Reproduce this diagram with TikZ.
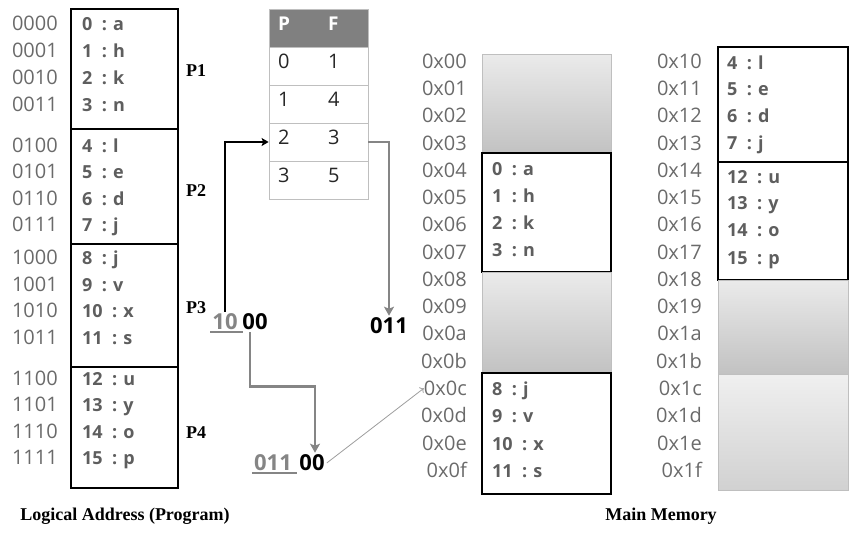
\documentclass[tikz,border=0pt]{standalone}
\usepackage{fontspec}
\setmainfont{Liberation Serif}
\newfontfamily\osans{Open Sans}
\usetikzlibrary{arrows.meta}
\definecolor{adrgray}{HTML}{6A6A6A}
\definecolor{cellgray}{HTML}{5E5E5E}
\definecolor{hdgray}{HTML}{808080}
\definecolor{arrgray}{HTML}{858585}
\definecolor{rulegray}{HTML}{BFBFBF}
\begin{document}
\begin{tikzpicture}[x=1pt, y=-1pt,
    adr/.style={anchor=mid east, inner sep=0pt, text=adrgray, font=\osans\fontsize{20}{22}\selectfont},
    cell/.style={anchor=mid west, inner sep=0pt, text=cellgray, font=\osans\bfseries\fontsize{18}{20}\selectfont},
    tab/.style={shape=rectangle, draw=rulegray, line width=0.8pt, minimum width=99pt, minimum height=38pt},
    tv/.style={anchor=mid west, inner sep=0pt, text=black!85, font=\osans\fontsize{20}{22}\selectfont},
    th/.style={anchor=mid west, inner sep=0pt, text=white, font=\osans\bfseries\fontsize{19}{21}\selectfont},
    pl/.style={font=\bfseries\fontsize{18}{20}\selectfont},
    num/.style={inner sep=2pt, font=\osans\bfseries\fontsize{22}{24}\selectfont},
    frame/.style={draw=black, line width=2.4pt},
    free/.style={draw=rulegray, line width=0.8pt, top color=black!8, bottom color=black!24},
    garr/.style={draw=arrgray, line width=2.6pt, -{Stealth[length=9pt, width=10pt, inset=2pt]}},
    blk/.style={draw=black, line width=2pt, -{Stealth[length=7pt, width=8pt, inset=1.5pt]}}]
\useasboundingbox (0,0) rectangle (860,536);

\draw[frame] (71,9) rectangle (178,129);
\draw[frame] (71,129) rectangle (178,244);
\draw[frame] (71,244) rectangle (178,367);
\draw[frame] (71,367) rectangle (178,488);

\node[adr] (a0) at (58,28) {0000};   \node[cell] (c0) at (82,28) {0\ \ : a};
\node[adr] (a1) at (58,55) {0001};   \node[cell] (c1) at (82,55) {1\ \ : h};
\node[adr] (a2) at (58,82) {0010};   \node[cell] (c2) at (82,82) {2\ \ : k};
\node[adr] (a3) at (58,109) {0011};  \node[cell] (c3) at (82,109) {3\ \ : n};
\node[adr] (a4) at (58,150) {0100};  \node[cell] (c4) at (82,150) {4\ \ : l};
\node[adr] (a5) at (58,176) {0101};  \node[cell] (c5) at (82,176) {5\ \ : e};
\node[adr] (a6) at (58,203) {0110};  \node[cell] (c6) at (82,203) {6\ \ : d};
\node[adr] (a7) at (58,229) {0111};  \node[cell] (c7) at (82,229) {7\ \ : j};
\node[adr] (a8) at (58,262) {1000};  \node[cell] (c8) at (82,262) {8\ \ : j};
\node[adr] (a9) at (58,289) {1001};  \node[cell] (c9) at (82,289) {9\ \ : v};
\node[adr] (a10) at (58,315) {1010}; \node[cell] (c10) at (82,315) {10\ \ : x};
\node[adr] (a11) at (58,342) {1011}; \node[cell] (c11) at (82,342) {11\ \ : s};
\node[adr] (a12) at (58,383) {1100}; \node[cell] (c12) at (82,383) {12\ \ : u};
\node[adr] (a13) at (58,409) {1101}; \node[cell] (c13) at (82,409) {13\ \ : y};
\node[adr] (a14) at (58,436) {1110}; \node[cell] (c14) at (82,436) {14\ \ : o};
\node[adr] (a15) at (58,462) {1111}; \node[cell] (c15) at (82,462) {15\ \ : p};

\node[pl] (P1) at (196,71) {P1};
\node[pl] (P2) at (196,191) {P2};
\node[pl] (P3) at (196,308) {P3};
\node[pl] (P4) at (196,433) {P4};

\node[tab, fill=hdgray] (H) at (318.5,28) {};
\node[tab] (R0) at (318.5,66) {};
\node[tab] (R1) at (318.5,104) {};
\node[tab] (R2) at (318.5,142) {};
\node[tab] (R3) at (318.5,180) {};
\node[th] (hP) at (278,28) {P};  \node[th] (hF) at (328,28) {F};
\node[tv] (p0) at (278,66) {0};  \node[tv] (f0) at (328,66) {1};
\node[tv] (p1) at (278,104) {1}; \node[tv] (f1) at (328,104) {4};
\node[tv] (p2) at (278,142) {2}; \node[tv] (f2) at (328,142) {3};
\node[tv] (p3) at (278,180) {3}; \node[tv] (f3) at (328,180) {5};

\node[num, text=arrgray] (Pg) at (225,322) {10};
\node[num] (Of) at (255,322) {00};
\node[num] (F3) at (389,326) {011};
\node[num, text=arrgray] (Fr) at (273,463) {011};
\node[num] (Of2) at (312,463) {00};
\draw[arrgray, line width=2pt] (Pg.south west) -- ([xshift=3pt]Pg.south east);
\draw[arrgray, line width=2pt] (Fr.south west) -- ([xshift=3pt]Fr.south east);

\draw[blk] (Pg.north) |- (R2.west);
\draw[garr] (R2.east) -| (F3.north);
\draw[garr] ([xshift=-5pt]Of.south) -- ++(0,54) -| ([xshift=3pt]Of2.north);

\draw[free] (482,54) rectangle (611,153);
\draw[frame] (482,153) rectangle (611,272);
\draw[free] (482,272) rectangle (611,373);
\draw[frame] (482,373) rectangle (611,494);
\draw[frame] (718,47) rectangle (848,162);
\draw[frame] (718,162) rectangle (848,280);
\draw[free] (718,280) rectangle (848,374);
\draw[free, top color=black!6, bottom color=black!18] (718,374) rectangle (848,490);

\node[adr] (m0) at (467,66) {0x00};      \node[adr] (m16) at (702,66) {0x10};
\node[adr] (m1) at (467,93.3) {0x01};    \node[adr] (m17) at (702,93.3) {0x11};
\node[adr] (m2) at (467,120.5) {0x02};   \node[adr] (m18) at (702,120.5) {0x12};
\node[adr] (m3) at (467,147.8) {0x03};   \node[adr] (m19) at (702,147.8) {0x13};
\node[adr] (m4) at (467,175.1) {0x04};   \node[adr] (m20) at (702,175.1) {0x14};
\node[adr] (m5) at (467,202.4) {0x05};   \node[adr] (m21) at (702,202.4) {0x15};
\node[adr] (m6) at (467,229.6) {0x06};   \node[adr] (m22) at (702,229.6) {0x16};
\node[adr] (m7) at (467,256.9) {0x07};   \node[adr] (m23) at (702,256.9) {0x17};
\node[adr] (m8) at (467,284.2) {0x08};   \node[adr] (m24) at (702,284.2) {0x18};
\node[adr] (m9) at (467,311.4) {0x09};   \node[adr] (m25) at (702,311.4) {0x19};
\node[adr] (m10) at (467,338.7) {0x0a};  \node[adr] (m26) at (702,338.7) {0x1a};
\node[adr] (m11) at (467,366) {0x0b};    \node[adr] (m27) at (702,366) {0x1b};
\node[adr] (m12) at (467,393.2) {0x0c};  \node[adr] (m28) at (702,393.2) {0x1c};
\node[adr] (m13) at (467,420.5) {0x0d};  \node[adr] (m29) at (702,420.5) {0x1d};
\node[adr] (m14) at (467,447.8) {0x0e};  \node[adr] (m30) at (702,447.8) {0x1e};
\node[adr] (m15) at (467,475) {0x0f};    \node[adr] (m31) at (702,475) {0x1f};

\node[cell] (k0) at (492,173) {0\ \ : a};   \node[cell] (k4) at (727,67) {4\ \ : l};
\node[cell] (k1) at (492,200) {1\ \ : h};   \node[cell] (k5) at (727,93) {5\ \ : e};
\node[cell] (k2) at (492,227) {2\ \ : k};   \node[cell] (k6) at (727,120) {6\ \ : d};
\node[cell] (k3) at (492,254) {3\ \ : n};   \node[cell] (k7) at (727,147) {7\ \ : j};
\node[cell] (k8) at (492,393) {8\ \ : j};   \node[cell] (k12) at (727,181) {12\ \ : u};
\node[cell] (k9) at (492,420) {9\ \ : v};   \node[cell] (k13) at (727,207) {13\ \ : y};
\node[cell] (k10) at (492,448) {10\ \ : x}; \node[cell] (k14) at (727,234) {14\ \ : o};
\node[cell] (k11) at (492,475) {11\ \ : s}; \node[cell] (k15) at (727,262) {15\ \ : p};

\draw[->, arrgray!80, line width=0.8pt] (Of2.east) -- (m12.west);

\node[pl] (LA) at (125,516) {Logical Address (Program)};
\node[pl] (MM) at (661,516) {Main Memory};
\end{tikzpicture}
\end{document}
